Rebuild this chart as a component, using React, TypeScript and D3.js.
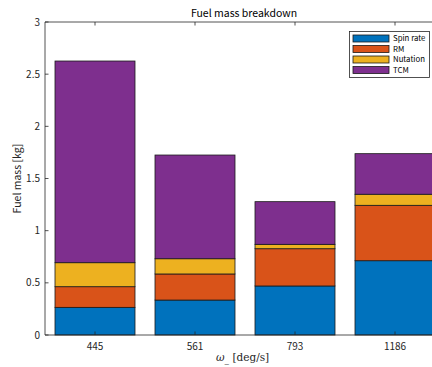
import * as d3 from "d3";

const categories = ["445", "561", "793", "1186"];
const seriesNames = ["Spin rate", "RM", "Nutation", "TCM"];
const spinRate = [0.265, 0.335, 0.47, 0.712];
const rm = [0.198, 0.25, 0.357, 0.531];
const nutation = [0.23, 0.146, 0.042, 0.106];
const tcm = [1.933, 0.994, 0.409, 0.389];
const yTicks = [0, 0.5, 1, 1.5, 2, 2.5, 3];
const colors = ["#0072BD", "#D95319", "#EDB120", "#7E2F8E"];

const W = 432;
const H = 367;
const left = 45;
const right = 445;
const top = 22;
const bottom = 335;
const font = "'Noto Sans CJK JP', 'DejaVu Sans', sans-serif";
const axisColor = "#262626";

export default function App() {
  const rows = categories.map((c, i) => ({
    cat: c,
    "Spin rate": spinRate[i],
    RM: rm[i],
    Nutation: nutation[i],
    TCM: tcm[i],
  }));

  const x = d3
    .scaleBand()
    .domain(categories)
    .range([left, right])
    .paddingInner(0.2)
    .paddingOuter(0.1);

  const y = d3.scaleLinear().domain([0, 3]).range([bottom, top]);

  const stacked = d3.stack().keys(seriesNames)(rows as any);

  return (
    <svg
      width={W}
      height={H}
      style={{ position: "absolute", left: 0, top: 0, background: "#fff" }}
      fontFamily={font}
    >
      {/* bars */}
      {stacked.map((layer, li) => (
        <g key={seriesNames[li]}>
          {layer.map((d, i) => (
            <rect
              key={i}
              x={x(categories[i])}
              y={y(d[1])}
              width={x.bandwidth()}
              height={y(d[0]) - y(d[1])}
              fill={colors[li]}
              stroke="#1a1a1a"
              strokeWidth={0.8}
            />
          ))}
        </g>
      ))}

      {/* axes box */}
      <line x1={left} x2={right} y1={bottom} y2={bottom} stroke={axisColor} strokeWidth={0.8} />
      <line x1={left} x2={right} y1={top} y2={top} stroke={axisColor} strokeWidth={0.8} />
      <line x1={left} x2={left} y1={top} y2={bottom} stroke={axisColor} strokeWidth={0.8} />

      {/* y ticks */}
      {yTicks.map((t) => (
        <g key={t}>
          <line x1={left} x2={left + 3.5} y1={y(t)} y2={y(t)} stroke={axisColor} strokeWidth={0.8} />
          <text x={left - 5} y={y(t)} dy="0.35em" textAnchor="end" fontSize={10} fill={axisColor}>
            {t}
          </text>
        </g>
      ))}

      {/* x ticks */}
      {categories.map((c) => {
        const cx = (x(c) as number) + x.bandwidth() / 2;
        return (
          <g key={c}>
            <line x1={cx} x2={cx} y1={bottom} y2={bottom - 3.5} stroke={axisColor} strokeWidth={0.8} />
            <line x1={cx} x2={cx} y1={top} y2={top + 3.5} stroke={axisColor} strokeWidth={0.8} />
            <text x={cx} y={bottom + 15} textAnchor="middle" fontSize={10} fill={axisColor}>
              {c}
            </text>
          </g>
        );
      })}

      {/* title */}
      <text x={244} y={17} textAnchor="middle" fontSize={10.5} fill="#000">
        Fuel mass breakdown
      </text>

      {/* axis labels */}
      <text
        transform={`translate(21,${(top + bottom) / 2}) rotate(-90)`}
        textAnchor="middle"
        fontSize={10.5}
        fill={axisColor}
      >
        Fuel mass [kg]
      </text>
      <text x={216} y={361} fontSize={10.5} fill={axisColor}>
        <tspan fontStyle="italic" fontFamily="'DejaVu Serif', serif">ω</tspan>
        <tspan dy={3} fontSize={8}>_</tspan>
        <tspan dy={-3} fontFamily="'DejaVu Serif', serif"> [deg/s]</tspan>
      </text>

      {/* legend */}
      <rect x={349.5} y={31.5} width={80} height={46} fill="#fff" stroke="#262626" strokeWidth={0.8} />
      {seriesNames.map((s, i) => (
        <g key={s}>
          <rect
            x={353}
            y={35 + i * 10.5}
            width={36}
            height={7}
            fill={colors[i]}
            stroke="#1a1a1a"
            strokeWidth={0.8}
          />
          <text x={393} y={38.5 + i * 10.5} dy="0.35em" fontSize={7.8} fill="#000">
            {s}
          </text>
        </g>
      ))}
    </svg>
  );
}
